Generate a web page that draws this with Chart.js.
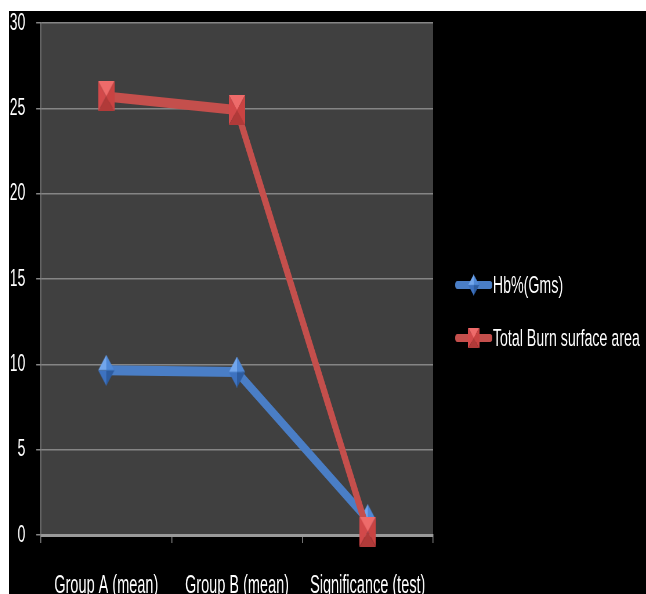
<!DOCTYPE html>
<html>
<head>
<meta charset="utf-8">
<script src="https://cdn.jsdelivr.net/npm/chart.js@4.4.1/dist/chart.umd.min.js"></script>
<style>
  html, body { margin: 0; background: #fff; }
  #frame { position: absolute; left: 9px; top: 11px; width: 637px; height: 583px; background: #000; overflow: hidden; }
  /* the source chart is squeezed sideways, so draw wide and squash */
  #chart { display: block; transform-origin: 0 0; transform: scaleX(0.58015); }
</style>
</head>
<body>
<div id="frame"><canvas id="chart" width="1098" height="583"></canvas></div>
<script>
//DATA
const categories = ['Group A (mean)', 'Group B (mean)', 'Significance (test)'];
const hbValues   = [9.65, 9.55, 0.9];
const tbsaValues = [25.7, 24.9, 0.2];
const yTicks     = [0, 5, 10, 15, 20, 25, 30];

const FONT = "'Liberation Sans', Arial, sans-serif";

//MARKERS (shaded like the office bevel)
function tri(g, pts, col) {
  g.beginPath();
  g.moveTo(pts[0], pts[1]); g.lineTo(pts[2], pts[3]); g.lineTo(pts[4], pts[5]);
  g.closePath(); g.fillStyle = col; g.fill();
}

function redMarker(w, h) {
  const c = document.createElement('canvas');
  c.width = w; c.height = h;
  const g = c.getContext('2d');
  tri(g, [0, 0, w, 0, w / 2, h / 2], '#ee6b6a');
  tri(g, [0, 0, 0, h, w / 2, h / 2], '#d2494a');
  tri(g, [w, 0, w, h, w / 2, h / 2], '#c94342');
  tri(g, [0, h, w, h, w / 2, h / 2], '#b13a39');
  return c;
}

function blueMarker(w, h) {
  const c = document.createElement('canvas');
  c.width = w; c.height = h;
  const g = c.getContext('2d');
  const cx = w / 2, cy = h / 2;
  tri(g, [cx, 0, 0, cy, cx, cy], '#72a6ec');
  tri(g, [cx, 0, w, cy, cx, cy], '#4f88d6');
  tri(g, [0, cy, cx, h, cx, cy], '#3d72c0');
  tri(g, [w, cy, cx, h, cx, cy], '#2d5ca0');
  return c;
}

const hbMark   = blueMarker(28, 31);
const tbsaMark = redMarker(28, 30);

//PLUGINS
const plotBg = {
  id: 'plotBg',
  beforeDraw(chart) {
    const a = chart.chartArea, ctx = chart.ctx;
    ctx.save();
    ctx.fillStyle = '#404040';
    ctx.fillRect(a.left, a.top, a.right - a.left, a.bottom - a.top);
    ctx.restore();
  }
};

const sideLegend = {
  id: 'sideLegend',
  afterDraw(chart) {
    const ctx = chart.ctx;
    const rows = [274, 327];
    ctx.save();
    chart.data.datasets.forEach((ds, i) => {
      const y = rows[i];
      ctx.strokeStyle = ds.borderColor;
      ctx.lineWidth = 8;
      ctx.lineCap = 'round';
      ctx.beginPath(); ctx.moveTo(773, y); ctx.lineTo(829, y); ctx.stroke();
      const m = ds.pointStyle;
      const mw = m.width * 0.68, mh = m.height * 0.68;
      ctx.drawImage(m, 801 - mw / 2, y - mh / 2, mw, mh);
      ctx.fillStyle = '#fff';
      ctx.font = '24.5px ' + FONT;
      ctx.textBaseline = 'middle';
      ctx.textAlign = 'left';
      ctx.fillText(ds.label, 834, y + 1);
    });
    ctx.restore();
  }
};

//CHART
new Chart(document.getElementById('chart'), {
  type: 'line',
  data: {
    labels: categories,
    datasets: [
      { label: 'Hb%(Gms)', data: hbValues, borderColor: '#4a7ec6', borderWidth: 10,
        pointStyle: hbMark, pointRadius: 14, tension: 0, clip: false, order: 1 },
      { label: 'Total Burn surface area', data: tbsaValues, borderColor: '#c44f4c', borderWidth: 10,
        pointStyle: tbsaMark, pointRadius: 14, tension: 0, clip: false, order: 0 }
    ]
  },
  options: {
    responsive: false,
    devicePixelRatio: 1,
    animation: false,
    layout: { autoPadding: false, padding: { top: 12, right: 367, left: 0, bottom: 0 } },
    plugins: { legend: { display: false }, tooltip: { enabled: false } },
    scales: {
      x: {
        offset: true,
        grid: { offset: true, drawOnChartArea: false, drawTicks: true, tickLength: 8, color: '#8c8c8c', lineWidth: 1.5 },
        border: { color: '#9a9a9a', width: 3 },
        ticks: { color: '#fff', font: { family: FONT, size: 25 }, padding: 28, maxRotation: 0, autoSkip: false },
        afterFit: s => { s.height = 59; }
      },
      y: {
        min: 0, max: 30,
        afterBuildTicks: s => { s.ticks = yTicks.map(v => ({ value: v })); },
        grid: { color: '#858585', lineWidth: 1.5, tickLength: 8 },
        border: { color: '#858585', width: 1.5 },
        ticks: { color: '#fff', font: { family: FONT, size: 24, lineHeight: 0.9 }, padding: 19 },
        afterFit: s => { s.width = 55; s.paddingTop = 0; }
      }
    }
  },
  plugins: [plotBg, sideLegend]
});
</script>
</body>
</html>
